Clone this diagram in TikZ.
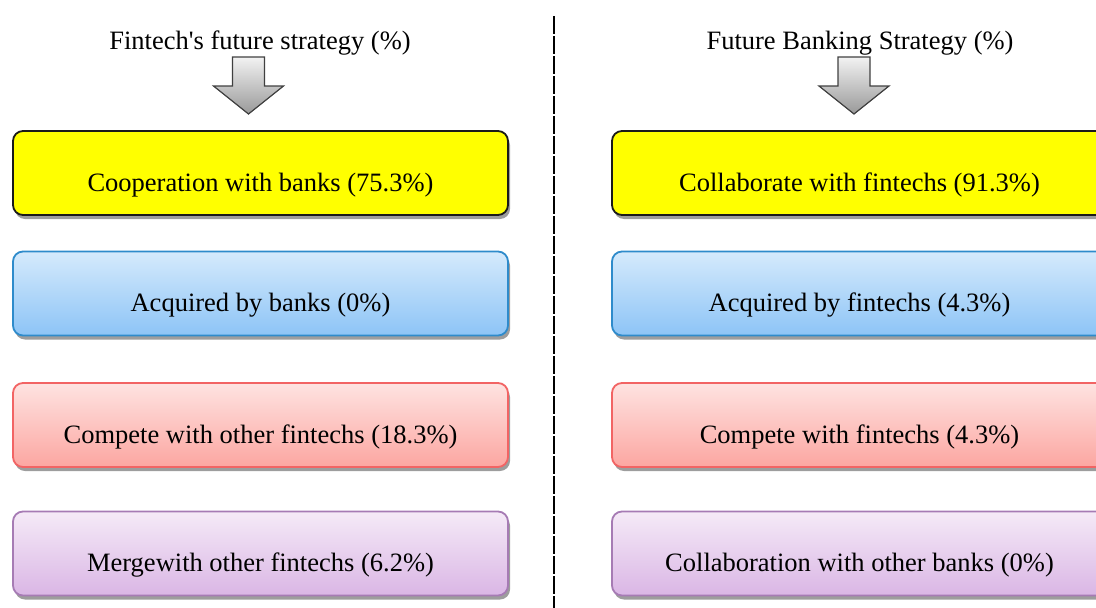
\documentclass[tikz,border=0pt]{standalone}
\usepackage{fontspec}
\setmainfont{Liberation Serif}
\usetikzlibrary{shadows}

\definecolor{yellowfill}{HTML}{FFFF00}
\definecolor{yellowline}{HTML}{1A1A1A}
\definecolor{bluetop}{HTML}{D5EAFC}
\definecolor{bluebot}{HTML}{8DC4F6}
\definecolor{blueline}{HTML}{2E8BCB}
\definecolor{redtop}{HTML}{FEE3E1}
\definecolor{redbot}{HTML}{FCA6A1}
\definecolor{redline}{HTML}{F26464}
\definecolor{purpletop}{HTML}{F5EAF7}
\definecolor{purplebot}{HTML}{DAB6E5}
\definecolor{purpleline}{HTML}{A67BB4}

\tikzset{every picture/.style={line width=1.5pt}}
\tikzset{
    heading/.style={inner sep=0pt, font=\fontsize{26.5}{30}\selectfont},
    option/.style={draw, line width=1.8pt, rounded corners=10pt, minimum width=495pt, minimum height=84pt,
        inner sep=0pt, text height=40pt, text depth=4pt, font=\fontsize{26.5}{30}\selectfont,
        drop shadow={shadow xshift=2pt, shadow yshift=-4pt, fill=black!55, opacity=0.7}},
    optyellow/.style={option, fill=yellowfill, draw=yellowline},
    optblue/.style={option, top color=bluetop, bottom color=bluebot, draw=blueline},
    optred/.style={option, top color=redtop, bottom color=redbot, draw=redline},
    optpurple/.style={option, top color=purpletop, bottom color=purplebot, draw=purpleline},
    divider/.style={line width=1.2pt, dash pattern=on 18pt off 2pt}
}

% block arrow pointing down, #1 = centre x
\newcommand{\strategyarrow}[1]{%
    \shade[top color=black!5, bottom color=black!40, draw=black!75, line width=1.2pt]
        (#1-16,57) -- (#1+16,57) -- (#1+16,86) -- (#1+35,86) -- (#1,114)
        -- (#1-35,86) -- (#1-16,86) -- cycle;
}

\begin{document}
\begin{tikzpicture}[x=1pt,y=1pt,yscale=-1,xscale=1]
    \useasboundingbox (0,0) rectangle (1096,608);

    %divider
    \coordinate (divtop) at (554,16);
    \coordinate (divbot) at (554,608);
    \draw[divider] (divtop) -- (divbot);

    %Fintech side
    \node[heading] (fintitle) at (260,43) {Fintech\textquotesingle s future strategy (\%)};
    \strategyarrow{248.5}
    \node[optyellow] (fincoop) at (260.5,173) {Cooperation with banks (75.3\%)};
    \node[optblue] (finacq) at (260.5,293.5) {Acquired by banks (0\%)};
    \node[optred] (fincomp) at (260.5,425) {Compete with other fintechs (18.3\%)};
    \node[optpurple] (finmerge) at (260.5,553.5) {Mergewith other fintechs (6.2\%)};

    %Banking side
    \node[heading] (banktitle) at (860,43) {Future Banking Strategy (\%)};
    \strategyarrow{854}
    \node[optyellow] (bankcoop) at (859.5,173) {Collaborate with fintechs (91.3\%)};
    \node[optblue] (bankacq) at (859.5,293.5) {Acquired by fintechs (4.3\%)};
    \node[optred] (bankcomp) at (859.5,425) {Compete with fintechs (4.3\%)};
    \node[optpurple] (bankcollab) at (859.5,553.5) {Collaboration with other banks (0\%)};

\end{tikzpicture}
\end{document}
